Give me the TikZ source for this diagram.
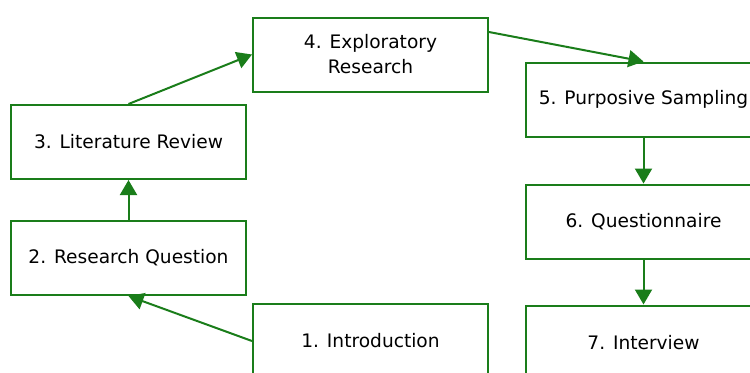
\documentclass[tikz,border=0pt]{standalone}
\usepackage{fontspec}
\setmainfont{DejaVu Sans}
\usetikzlibrary{arrows.meta, positioning}
\definecolor{stagegreen}{RGB}{26,125,26}

\begin{document}
\begin{tikzpicture}[node distance=20pt, >={Triangle[length=7.5pt,width=8.5pt]},
  stage/.style={rectangle, draw=stagegreen, line width=1pt, minimum width=117.5pt,
    minimum height=37pt, align=center, font=\fontsize{9.3}{12.5}\selectfont},
  flow/.style={->, draw=stagegreen, fill=stagegreen, line width=1pt}]
\useasboundingbox (0pt,0pt) rectangle (375pt,-186pt);
\clip (0pt,0pt) rectangle (375pt,-186pt);

\node (question) [stage] at (64.25pt,-129pt) {2. Research Question};
\node (review)   [stage, above=of question] {3. Literature Review};
\node (explore)  [stage] at (185.25pt,-27.25pt) {4. Exploratory\\Research};
\node (intro)    [stage] at (185.25pt,-170.5pt) {1. Introduction};
\node (sampling) [stage] at (321.75pt,-49.75pt) {5. Purposive Sampling};
\node (quest)    [stage, below=23pt of sampling] {6. Questionnaire};
\node (interview)[stage, below=22.5pt of quest] {7. Interview};

\draw[flow] (intro.west) -- (question.south);
\draw[flow] (question) -- (review);
\draw[flow] (review.north) -- (explore.west);
\draw[flow] ([yshift=11.25pt]explore.east) -- (sampling.north);
\draw[flow] (sampling) -- (quest);
\draw[flow] (quest) -- (interview);
\end{tikzpicture}
\end{document}
